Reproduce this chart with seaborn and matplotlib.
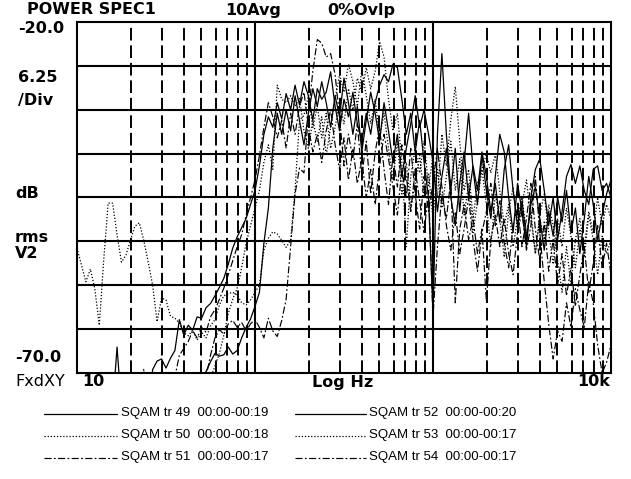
import numpy as np
import pandas as pd
import matplotlib
matplotlib.use("Agg")
import matplotlib.pyplot as plt
import seaborn as sns
from matplotlib.lines import Line2D

# ---------------- data (Hz, dB rms V^2); -75 = below the bottom of the display
FREQ_HZ = [10.0, 10.59, 11.22, 11.89, 12.59, 13.34, 14.13, 14.96, 15.85, 16.79,
           17.78, 18.84, 19.95, 21.13, 22.39, 23.71, 25.12, 26.61, 28.18, 29.85,
           31.62, 33.50, 35.48, 37.58, 39.81, 42.17, 44.67, 47.32, 50.12, 53.09,
           56.23, 59.57, 63.10, 66.83, 70.79, 74.99, 79.43, 84.14, 89.13, 94.41,
           100.0, 105.9, 112.2, 118.9, 125.9, 133.4, 141.3, 149.6, 158.5, 167.9,
           177.8, 188.4, 199.5, 211.3, 223.9, 237.1, 251.2, 266.1, 281.8, 298.5,
           316.2, 335.0, 354.8, 375.8, 398.1, 421.7, 446.7, 473.2, 501.2, 530.9,
           562.3, 595.7, 631.0, 668.3, 707.9, 749.9, 794.3, 841.4, 891.3, 944.1,
           1000, 1059, 1122, 1189, 1259, 1334, 1413, 1496, 1585, 1679,
           1778, 1884, 1995, 2113, 2239, 2371, 2512, 2661, 2818, 2985,
           3162, 3350, 3548, 3758, 3981, 4217, 4467, 4732, 5012, 5309,
           5623, 5957, 6310, 6683, 7079, 7499, 7943, 8414, 8913, 9441, 10000]

TR49 = [-75.0] * 17 + [
    -69.5, -68.3, -68.0, -69.3, -67.9, -66.8, -62.4, -64.6, -63.2, -63.9, -62.0, -62.2,
    -60.7, -60.1, -59.0, -57.8, -56.5, -54.5, -52.2, -50.6, -49.3, -48.0, -46.0, -44.0,
    -40.5, -36.0, -33.5, -35.0, -31.5, -33.8, -30.2, -32.5, -29.0, -31.8,
    -28.5, -30.5, -34.0, -29.5, -31.0, -30.0, -27.1, -32.0, -35.5, -31.0,
    -33.5, -30.0, -34.5, -37.0, -33.0, -36.0, -31.5, -29.0, -27.5, -28.5,
    -26.0, -26.5, -31.0, -36.0, -33.0, -38.5, -34.0, -40.0, -45.0, -61.5,
    -36.0, -24.5, -36.0, -44.0, -38.0, -47.0, -40.0, -33.0, -41.0, -46.0,
    -39.0, -44.0, -48.0, -42.0, -36.0, -38.5, -45.0, -50.0, -43.0, -47.0,
    -52.0, -45.0, -41.0, -39.5, -44.0, -49.0, -45.0, -51.0, -47.0, -42.0,
    -40.3, -43.0, -40.5, -44.0, -46.0, -41.0, -40.5, -44.0, -43.0, -45.0]

TR50 = [
    -52.2, -54.6, -57.0, -55.2, -58.0, -63.2, -53.9, -45.8, -45.8, -50.3, -54.2,
    -53.2, -51.1, -49.1, -48.6, -51.1, -54.2, -57.5, -62.7, -59.3, -59.6,
    -61.9, -62.2, -62.9, -64.3, -64.7, -63.9, -65.3, -64.2, -65.0, -63.3,
    -62.4, -60.3, -59.0, -58.7, -58.5, -58.9, -60.0, -60.3, -59.6, -58.5,
    -57.5, -52.5, -50.8, -49.9, -50.2, -51.1, -52.1, -51.1, -43.9, -34.0,
    -33.3, -30.5, -35.0, -32.0, -36.5, -33.0, -38.0, -35.0, -31.5, -34.5,
    -29.5, -32.5, -28.0, -30.0, -26.5, -29.5, -27.0, -22.8, -25.0, -31.0,
    -35.5, -33.0, -40.0, -52.0, -42.0, -38.0, -41.5, -37.0, -43.5, -39.0,
    -45.0, -36.0, -40.5, -34.0, -29.2, -37.0, -44.0, -41.0, -48.0, -43.0,
    -41.0, -38.8, -41.5, -38.8, -44.0, -49.0, -46.0, -52.0, -48.0, -45.0,
    -50.0, -47.0, -53.0, -48.0, -51.0, -46.0, -49.0, -54.0, -58.5, -52.0,
    -57.5, -51.0, -48.0, -52.0, -47.0, -50.0, -45.0, -49.0, -46.0, -48.0]

TR51 = [-75.0] * 28 + [
    -75.0, -70.5, -67.5, -65.0, -63.8, -64.5, -63.0, -62.5, -63.5, -62.8, -64.0, -63.0, -62.4,
    -63.5, -65.0, -62.2, -64.0, -64.8, -62.5, -59.5, -52.0, -44.5, -40.8,
    -41.5, -33.0, -27.0, -22.5, -23.0, -25.0, -24.5, -27.5, -33.5, -40.5,
    -36.0, -39.5, -34.5, -42.0, -37.0, -44.5, -38.5, -35.0, -41.0, -46.0,
    -39.0, -43.5, -37.5, -42.0, -47.0, -41.0, -45.5, -50.0, -44.0, -62.0,
    -52.0, -44.5, -48.0, -42.5, -60.0, -49.5, -46.0, -51.0, -48.0, -53.0,
    -49.5, -59.8, -51.0, -47.5, -52.0, -48.0, -53.0, -56.0, -50.0, -47.0,
    -52.5, -49.0, -42.0, -50.0, -57.0, -63.0, -68.0, -64.0, -65.5, -60.0,
    -63.5, -58.0, -61.0, -63.5, -57.0, -60.0, -66.0, -70.0, -68.5, -66.0]

TR52 = [-75.0] * 8 + [-75.0, -66.3, -75.0] + [-75.0] * 17 + [
    -70.5, -69.8, -68.4, -67.2, -67.6, -67.4, -66.3, -67.3, -66.8, -65.0, -63.5, -62.3, -60.5,
    -58.5, -51.5, -46.5, -38.0, -33.0, -36.0, -32.5, -35.5, -30.5, -34.0,
    -37.5, -33.0, -29.5, -32.0, -28.5, -31.5, -35.0, -30.5, -33.5, -28.0,
    -31.5, -36.0, -32.0, -38.5, -34.0, -30.0, -33.0, -37.0, -31.5, -35.5,
    -40.0, -36.0, -42.0, -38.0, -34.5, -30.5, -35.0, -32.5, -36.0, -40.0,
    -47.0, -42.0, -38.0, -45.0, -49.0, -43.0, -38.5, -45.0, -40.5, -44.0,
    -38.5, -42.0, -47.0, -43.0, -48.5, -41.0, -37.5, -44.0, -49.0, -45.5,
    -51.0, -46.0, -43.5, -48.0, -52.5, -47.0, -50.5, -45.0, -48.5, -44.0,
    -50.0, -46.5, -53.0, -48.0, -42.0, -46.0, -51.0, -47.5, -44.5, -42.5]

TR53 = [-75.0] * 15 + [-69.5] + [-75.0] * 14 + [
    -70.8, -69.0, -67.2, -64.6, -61.5, -59.5, -57.9, -55.0, -51.5, -49.0, -46.5,
    -44.0, -40.0, -37.5, -41.0, -29.0, -31.0, -31.5, -30.5, -32.0, -30.8,
    -35.5, -38.0, -34.0, -37.0, -33.5, -39.0, -35.0, -31.0, -27.5, -30.0,
    -26.0, -28.5, -32.0, -26.8, -30.5, -34.5, -31.0, -36.5, -33.0, -38.0,
    -42.5, -37.0, -44.5, -40.0, -46.5, -43.0, -39.0, -45.0, -41.5, -48.0,
    -41.0, -46.5, -42.0, -37.0, -44.0, -39.5, -47.5, -43.0, -50.0, -45.5,
    -41.0, -46.0, -52.0, -44.5, -48.0, -53.5, -47.0, -43.5, -49.5, -46.0,
    -42.5, -48.0, -53.0, -47.5, -44.5, -50.0, -54.5, -48.0, -52.0, -46.5,
    -50.5, -55.0, -49.5, -53.5, -47.5, -51.0, -56.0, -50.5, -53.0, -51.0]

TR54 = [-75.0] * 22 + [
    -70.5, -67.5, -66.5, -65.5, -64.0, -65.0, -63.5, -64.2, -62.0,
    -61.0, -59.5, -57.9, -56.0, -54.0, -52.0, -50.3, -47.5, -45.0, -42.5,
    -39.0, -35.0, -31.5, -33.5, -36.5, -34.0, -38.0, -33.0, -36.0, -32.0,
    -30.0, -35.0, -38.5, -36.0, -40.0, -35.5, -32.5, -37.5, -41.0, -36.5,
    -42.5, -38.0, -43.0, -39.5, -45.0, -41.0, -46.0, -40.5, -36.0, -39.5,
    -43.5, -47.5, -41.0, -45.0, -38.0, -44.5, -49.5, -42.0, -47.0, -43.0,
    -38.0, -43.5, -49.0, -52.5, -47.0, -53.0, -49.5, -45.0, -51.0, -55.5,
    -50.0, -47.0, -43.0, -49.0, -45.5, -51.5, -55.0, -49.0, -46.5, -52.0,
    -48.0, -43.0, -49.5, -54.0, -48.5, -55.5, -51.0, -57.5, -53.0, -59.0,
    -55.0, -60.5, -56.0, -52.0, -58.5, -54.5, -49.0, -55.0, -51.5, -56.0]

SERIES = ["SQAM tr 49  00:00-00:19", "SQAM tr 50  00:00-00:18", "SQAM tr 51  00:00-00:17",
          "SQAM tr 52  00:00-00:20", "SQAM tr 53  00:00-00:17", "SQAM tr 54  00:00-00:17"]
VALUES = [TR49, TR50, TR51, TR52, TR53, TR54]
KINDS = ["solid", "dotted", "dashdot", "solid", "dotted", "dashdot"]

Y_TOP, Y_BOT = -20.0, -70.0
F_MIN, F_MAX = 10, 10000

# ---------------- styles
W, H = 631, 479
LS = {"solid": "-", "dotted": (0, (1.0, 1.5)), "dashdot": (0, (6.0, 2.0, 1.5, 2.0))}
LW = {"solid": 0.9, "dotted": 0.9, "dashdot": 0.85}

sns.set_theme(style="white")
plt.rcParams["font.family"] = ["DejaVu Sans"]

fig = plt.figure(figsize=(W / 100, H / 100), dpi=100)
ax = fig.add_axes([77 / W, 1 - 373 / H, (611 - 77) / W, (373 - 22) / H])

# traces
for name, vals, kind in zip(SERIES, VALUES, KINDS):
    df = pd.DataFrame({"freq": FREQ_HZ, "db": vals})
    sns.lineplot(data=df, x="freq", y="db", ax=ax, color="black", sort=False,
                 linewidth=LW[kind], linestyle=LS[kind], legend=False, zorder=2)

ax.set_xlabel("")
ax.set_ylabel("")
ax.set_xscale("log")
ax.set_xlim(F_MIN, F_MAX)
ax.set_ylim(Y_BOT, Y_TOP)
ax.set_xticks([])
ax.set_yticks([])
ax.minorticks_off()
ax.tick_params(which="both", length=0, labelbottom=False, labelleft=False)
for s in ax.spines.values():
    s.set_color("black")
    s.set_linewidth(1.5)

# grid
step = (Y_TOP - Y_BOT) / 8
for i in range(1, 8):
    ax.axhline(Y_BOT + i * step, color="black", lw=1.5, zorder=1)
for dec in [10, 100, 1000]:
    if dec > 10:
        ax.axvline(dec, color="black", lw=1.5, zorder=1)
    for m in range(2, 10):
        ax.axvline(dec * m, color="black", lw=1.4, ls=(0, (6.5, 2.5)), zorder=1)


def fx(x):
    return x / W


def fy(y):
    return 1 - y / H


B = dict(fontsize=11.5, fontweight="bold", color="black", va="center", ha="left")
fig.text(fx(27), fy(10), "POWER SPEC1", **B)
fig.text(fx(225), fy(10), "10Avg", **B)
fig.text(fx(327), fy(10), "0%Ovlp", **B)
fig.text(fx(18), fy(28.5), "-20.0", **B)
fig.text(fx(18), fy(77), "6.25", **B)
fig.text(fx(18), fy(101), "/Div", **B)
fig.text(fx(15), fy(193), "dB", **B)
fig.text(fx(15), fy(238), "rms", **B)
fig.text(fx(15), fy(253), "V2", **B)
fig.text(fx(15), fy(358), "-70.0", **B)
fig.text(fx(15), fy(382), "FxdXY", fontsize=11.5, color="black", va="center", ha="left")
fig.text(fx(82), fy(382), "10", **B)
fig.text(fx(312), fy(382), "Log Hz", **B)
fig.text(fx(577), fy(382), "10k", **B)

# legend
ROWS = [413, 435, 457]
COLS = [(44, 117, 121), (295, 366, 369)]
for i, (name, kind) in enumerate(zip(SERIES, KINDS)):
    c = COLS[i // 3]
    r = ROWS[i % 3]
    fig.add_artist(Line2D([fx(c[0]), fx(c[1])], [fy(r + 1), fy(r + 1)], transform=fig.transFigure,
                          color="black", lw=LW[kind], ls=LS[kind]))
    fig.text(fx(c[2]), fy(r), name, fontsize=9.5, color="black", va="center", ha="left",
             family=["Liberation Sans", "DejaVu Sans"])

fig.savefig("out.png", dpi=100, facecolor="white")
